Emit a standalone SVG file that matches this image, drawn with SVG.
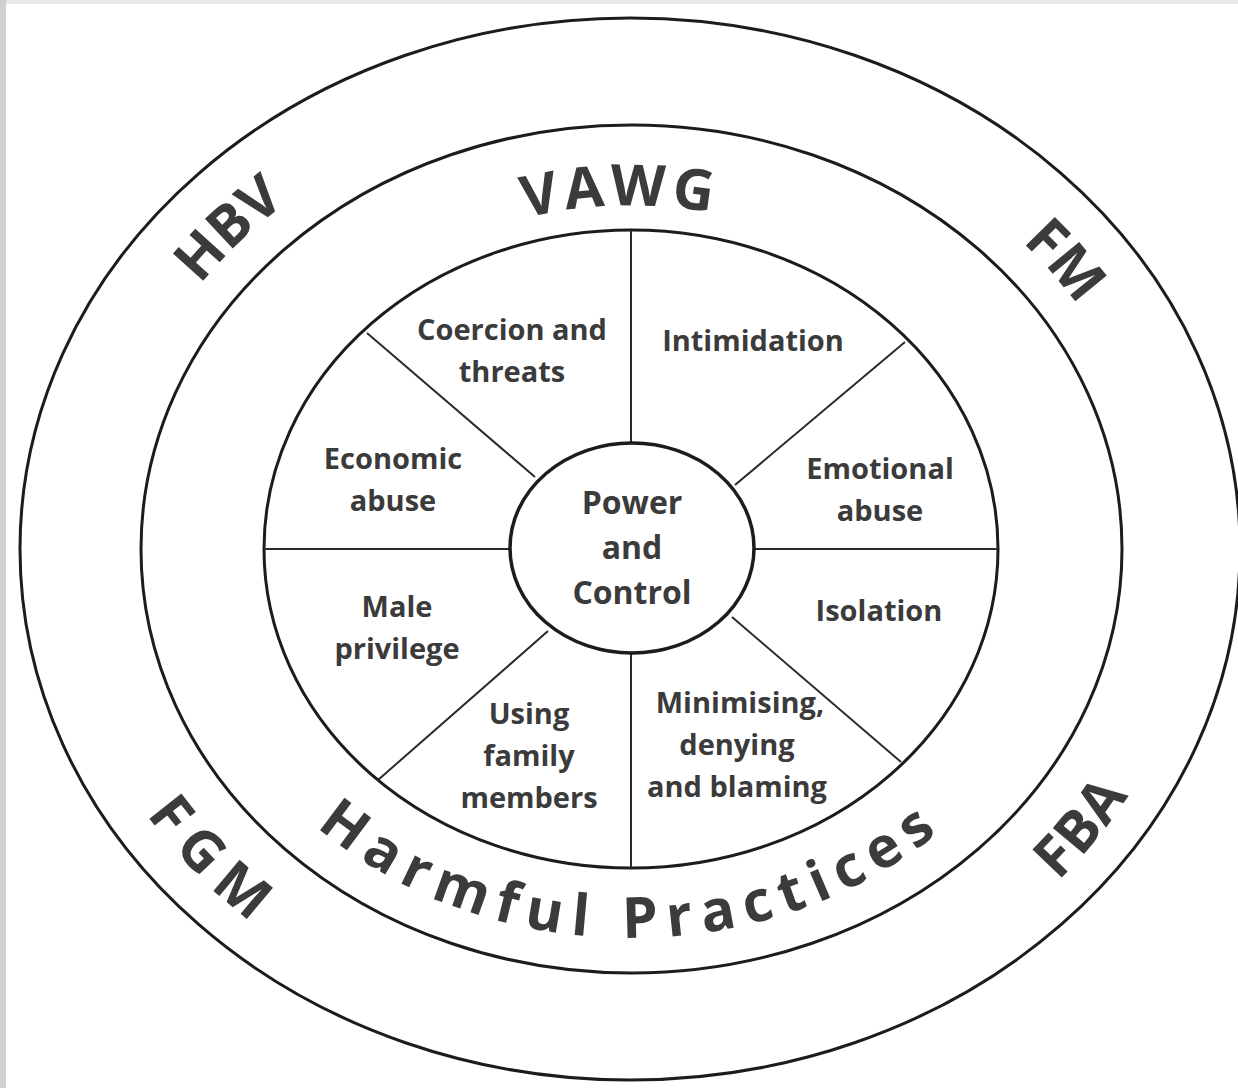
<svg xmlns="http://www.w3.org/2000/svg" width="1238" height="1088" viewBox="0 0 1238 1088">
<defs>
<style>
.ring{fill:none;stroke:#1c1c1c;stroke-width:3}
.hub{fill:#fff;stroke:#1c1c1c;stroke-width:3.5}
.spoke{stroke:#2a2a2a;stroke-width:2;fill:none}
.lbl{font-family:"Open Sans","Liberation Sans",sans-serif;font-weight:700;font-size:29px;fill:#3b3b3b;text-anchor:middle}
.hubt{font-family:"Open Sans","Liberation Sans",sans-serif;font-weight:700;font-size:32px;fill:#3b3b3b;text-anchor:middle}
.big{font-family:"Open Sans","Liberation Sans",sans-serif;font-weight:700;font-size:57px;fill:#3b3b3b}
</style>
<path id="pHBV" d="M113.2,459.5 A528,457 0 0 1 461.7,116.1"/>
<path id="pFM" d="M844.1,130.8 A528,457 0 0 1 1155.9,499.6"/>
<path id="pVAWG" d="M423.5,256 A400,348 0 0 1 819.3,246.4"/>
<path id="pHP" d="M242.2,743.5 A449,389 0 0 0 1019.8,743.5"/>
<path id="pFGM" d="M67.7,635.6 A572,499 0 0 0 435.4,1017.9"/>
<path id="pFBA" d="M875.5,1000.1 A572,499 0 0 0 1201.1,589.9"/>
</defs>
<rect x="0" y="0" width="1238" height="1088" fill="#fff"/>
<rect x="0" y="0" width="1238" height="4" fill="#e5e7e8"/>
<rect x="0" y="0" width="6" height="1088" fill="#cdd1d3"/>

<g id="rings">
<ellipse id="outer-ring" class="ring" cx="630" cy="549" rx="610" ry="531"/>
<ellipse id="middle-ring" class="ring" cx="631.5" cy="549" rx="490.5" ry="424"/>
<ellipse id="wheel" class="ring" cx="631" cy="549" rx="367" ry="319"/>
</g>

<g id="connectors">
<line class="spoke" x1="631" y1="230" x2="631" y2="443"/>
<line class="spoke" x1="631" y1="653" x2="631" y2="868"/>
<line class="spoke" x1="264" y1="549" x2="510" y2="549"/>
<line class="spoke" x1="754" y1="549" x2="998" y2="549"/>
<line class="spoke" x1="367" y1="333" x2="535" y2="477"/>
<line class="spoke" x1="905" y1="342" x2="735" y2="485"/>
<line class="spoke" x1="548" y1="631" x2="378" y2="780"/>
<line class="spoke" x1="732" y1="617" x2="901" y2="762"/>
</g>

<g id="hub">
<ellipse class="hub" cx="632" cy="548" rx="122" ry="105"/>
<text class="hubt" x="632" y="514">Power</text>
<text class="hubt" x="632" y="559">and</text>
<text class="hubt" x="632" y="604">Control</text>
</g>

<g id="coercion"><text class="lbl" x="512" y="340">Coercion and</text><text class="lbl" x="512" y="382">threats</text></g>
<g id="intimidation"><text class="lbl" x="753" y="351">Intimidation</text></g>
<g id="economic"><text class="lbl" x="393" y="469">Economic</text><text class="lbl" x="393" y="511">abuse</text></g>
<g id="emotional"><text class="lbl" x="880" y="479">Emotional</text><text class="lbl" x="880" y="521">abuse</text></g>
<g id="male"><text class="lbl" x="397" y="617">Male</text><text class="lbl" x="397" y="659">privilege</text></g>
<g id="isolation"><text class="lbl" x="879" y="621">Isolation</text></g>
<g id="family"><text class="lbl" x="529" y="724">Using</text><text class="lbl" x="529" y="766">family</text><text class="lbl" x="529" y="808">members</text></g>
<g id="minimising"><text class="lbl" x="740" y="713">Minimising,</text><text class="lbl" x="737" y="755">denying</text><text class="lbl" x="737" y="797">and blaming</text></g>

<g id="band-labels">
<text class="big" letter-spacing="5"><textPath href="#pVAWG" startOffset="50%" text-anchor="middle">VAWG</textPath></text>
<text class="big" letter-spacing="10"><textPath href="#pHP" startOffset="50%" text-anchor="middle">Harmful Practices</textPath></text>
<text class="big"><textPath href="#pHBV" startOffset="50%" text-anchor="middle">HBV</textPath></text>
<text class="big"><textPath href="#pFM" startOffset="50%" text-anchor="middle">FM</textPath></text>
<text class="big" letter-spacing="12"><textPath href="#pFGM" startOffset="50%" text-anchor="middle">FGM</textPath></text>
<text class="big" letter-spacing="1"><textPath href="#pFBA" startOffset="50%" text-anchor="middle">FBA</textPath></text>
</g>
</svg>
